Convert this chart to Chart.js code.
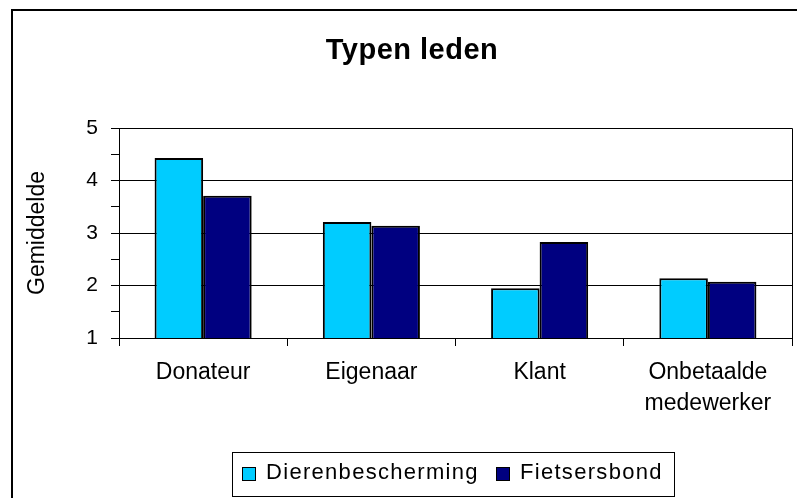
<!DOCTYPE html>
<html>
<head>
<meta charset="utf-8">
<script src="https://cdn.jsdelivr.net/npm/chart.js@4"></script>
<style>
html,body{margin:0;padding:0;background:#fff;}
#wrap{position:relative;width:797px;height:498px;}
</style>
</head>
<body>
<div id="wrap"><canvas id="c" width="797" height="498"></canvas></div>
<script>
const chartTitle = 'Typen leden';
const yAxisTitle = 'Gemiddelde';
const categories = ['Donateur', 'Eigenaar', 'Klant', ['Onbetaalde', 'medewerker']];
const seriesNames = ['Dierenbescherming', 'Fietsersbond'];
const dierenbescherming = [4.43, 3.21, 1.95, 2.14];
const fietsersbond = [3.71, 3.14, 2.83, 2.07];
const yMin = 1, yMax = 5, yStep = 0.5;

const FONT = '"Liberation Sans", Arial, sans-serif';

const decor = {
  id: 'decor',
  afterDraw(chart) {
    const ctx = chart.ctx;
    const a = chart.chartArea;
    ctx.save();
    ctx.strokeStyle = '#000';
    ctx.lineWidth = 2;
    ctx.strokeRect(12, 10, 900, 600);
    ctx.lineWidth = 1;
    ctx.beginPath();
    ctx.moveTo(Math.round(a.left) + 0.5, Math.round(a.top) + 0.5);
    ctx.lineTo(Math.round(a.right) + 0.5, Math.round(a.top) + 0.5);
    ctx.lineTo(Math.round(a.right) + 0.5, Math.round(a.bottom) + 0.5);
    ctx.stroke();
    ctx.fillStyle = '#000';
    ctx.font = 'bold 29px ' + FONT;
    ctx.textAlign = 'center';
    ctx.textBaseline = 'alphabetic';
    ctx.letterSpacing = '0.5px';
    ctx.fillText(chartTitle, 412, 59);
    ctx.letterSpacing = '0px';
    ctx.strokeRect(232.5, 452.5, 442, 44);
    ctx.font = '22px ' + FONT;
    ctx.textAlign = 'left';
    ctx.letterSpacing = '1.3px';
    const xs = [242, 496];
    chart.data.datasets.forEach((ds, i) => {
      ctx.fillStyle = ds.backgroundColor;
      ctx.fillRect(xs[i] + 0.5, 467.5, 13, 13);
      ctx.strokeStyle = '#000';
      ctx.strokeRect(xs[i] + 0.5, 467.5, 13, 13);
      ctx.fillStyle = '#000';
      ctx.fillText(ds.label, xs[i] + 24, 479);
    });
    ctx.restore();
  }
};

new Chart(document.getElementById('c'), {
  type: 'bar',
  data: {
    labels: categories,
    datasets: [
      { label: seriesNames[0], data: dierenbescherming, backgroundColor: '#00CCFF', borderColor: '#000', borderWidth: 2 },
      { label: seriesNames[1], data: fietsersbond, backgroundColor: '#000080', borderColor: '#000', borderWidth: 2 }
    ]
  },
  options: {
    responsive: false,
    animation: false,
    devicePixelRatio: 1,
    layout: { padding: { left: 0, top: 128, right: 5, bottom: 0 } },
    datasets: { bar: { categoryPercentage: 0.577, barPercentage: 1.0 } },
    plugins: {
      legend: { display: false },
      title: { display: false },
      tooltip: { enabled: false }
    },
    scales: {
      x: {
        offset: true,
        grid: { offset: true, drawOnChartArea: false, drawTicks: true, tickLength: 8, color: '#000', tickColor: '#000' },
        border: { display: true, color: '#000', width: 1 },
        ticks: { color: '#000', font: { family: FONT, size: 23, lineHeight: 1.35 }, padding: 11, maxRotation: 0, autoSkip: false },
        afterFit(s) { s.height = 160; s.paddingLeft = 0; s.paddingRight = 0; }
      },
      y: {
        min: yMin, max: yMax,
        grid: {
          drawTicks: true, tickLength: 8,
          color: (c) => (c.tick && c.tick.value % 1 === 0) ? '#000' : 'rgba(0,0,0,0)',
          tickColor: '#000', lineWidth: 1
        },
        border: { display: true, color: '#000', width: 1 },
        ticks: {
          stepSize: yStep, autoSkip: false, color: '#000', padding: 13,
          font: { family: FONT, size: 21 },
          callback: (v) => (v % 1 === 0) ? String(v) : ''
        },
        title: { display: true, text: yAxisTitle, color: '#000', font: { family: FONT, size: 23 }, padding: { top: 24, bottom: 0 } },
        afterFit(s) { s.width = 119; s.paddingTop = 0; s.paddingBottom = 0; }
      }
    }
  },
  plugins: [decor]
});
</script>
</body>
</html>
